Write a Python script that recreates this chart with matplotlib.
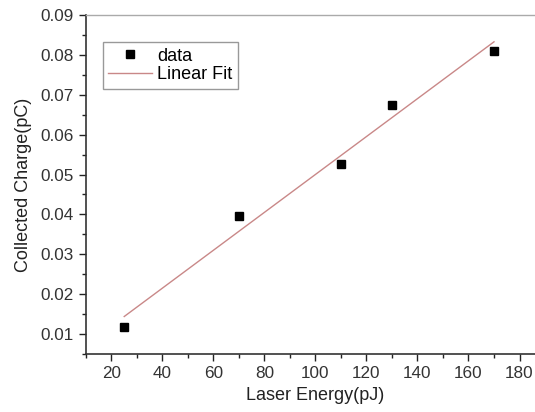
import numpy as np
import matplotlib.pyplot as plt
from matplotlib.ticker import MultipleLocator

plt.rcParams['font.family'] = ['Liberation Sans', 'DejaVu Sans']

# Measured points
energy = [25, 70, 110, 130, 170]
charge = [0.0118, 0.0395, 0.0527, 0.0675, 0.081]

# Linear fit over the data range
slope, intercept = np.polyfit(energy, charge, 1)
fit_x = np.array([energy[0], energy[-1]])
fit_y = slope * fit_x + intercept

fig = plt.figure(figsize=(5.35, 4.12), dpi=100)
ax = fig.add_axes([0.1607, 0.1408, 0.858, 0.8228])

ax.plot(energy, charge, 's', color='black', markersize=6, label='data', zorder=3)
ax.plot(fit_x, fit_y, '-', color='#c98888', linewidth=1.0, label='Linear Fit')

ax.set_xlim(10, 190)
ax.set_ylim(0.005, 0.09)
ax.xaxis.set_minor_locator(MultipleLocator(10))
ax.yaxis.set_minor_locator(MultipleLocator(0.005))
ax.set_xticks(np.arange(20, 181, 20))
ax.set_yticks(np.arange(0.01, 0.091, 0.01))
ax.set_yticklabels([f'{v:.2f}' for v in np.arange(0.01, 0.091, 0.01)])

ax.tick_params(which='major', direction='out', length=5, width=1, labelsize=12.3,
               colors='#222222', labelcolor='#333333', pad=4)
ax.tick_params(which='minor', direction='out', length=3, width=1, colors='#222222')
ax.tick_params(top=False, right=False)

for side in ['left', 'bottom']:
    ax.spines[side].set_color('#333333')
    ax.spines[side].set_linewidth(1.2)
ax.spines['top'].set_color('#aaaaaa')
ax.spines['top'].set_linewidth(1.0)
ax.spines['right'].set_visible(False)

ax.set_xlabel('Laser Energy(pJ)', fontsize=13, color='#222222', labelpad=4)
ax.set_ylabel('Collected Charge(pC)', fontsize=13, color='#222222', labelpad=6)

leg = ax.legend(loc='upper left', bbox_to_anchor=(0.037, 0.92), borderaxespad=0,
                fontsize=13, fancybox=False, edgecolor='#999999', framealpha=1,
                handlelength=2.4, handletextpad=0.3, borderpad=0.3, labelspacing=0.1)
leg.get_frame().set_linewidth(1.0)

fig.savefig('out.png', dpi=100)
